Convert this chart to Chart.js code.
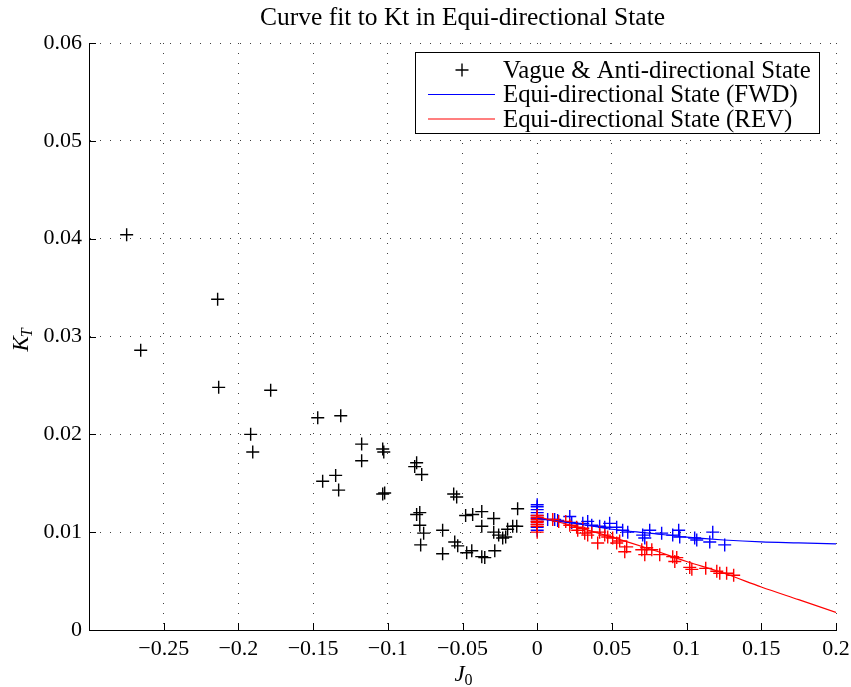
<!DOCTYPE html>
<html>
<head>
<meta charset="utf-8">
<script src="https://cdn.jsdelivr.net/npm/chart.js@4.4.1/dist/chart.umd.min.js"></script>
<style>
html,body{margin:0;padding:0;background:#fff;}
#wrap{width:851px;height:687px;position:relative;}
</style>
</head>
<body>
<div id="wrap"><canvas id="c" width="851" height="687"></canvas></div>
<script>
// ---------- data ----------
const chartTitle = 'Curve fit to Kt in Equi-directional State';
const legendLabels = ['Vague & Anti-directional State', 'Equi-directional State (FWD)', 'Equi-directional State (REV)'];

const xTickValues = [-0.3, -0.25, -0.2, -0.15, -0.1, -0.05, 0, 0.05, 0.1, 0.15, 0.2];
const xTickLabels = ['', '\u22120.25', '\u22120.2', '\u22120.15', '\u22120.1', '\u22120.05', '0', '0.05', '0.1', '0.15', '0.2'];
const yTickValues = [0, 0.01, 0.02, 0.03, 0.04, 0.05, 0.06];
const yTickLabels = ['0', '0.01', '0.02', '0.03', '0.04', '0.05', '0.06'];

// Vague & anti-directional state (black +)
const vagueJ = [-0.2748, -0.2654, -0.2139, -0.2132, -0.1918, -0.1904, -0.1784, -0.1469, -0.1315, -0.1436,
  -0.1349, -0.1329, -0.1175, -0.1175, -0.1034, -0.1027, -0.1034, -0.1021, -0.0807, -0.0820,
  -0.0773, -0.0807, -0.0786, -0.0786, -0.0760, -0.0780, -0.0633, -0.0633, -0.0559, -0.0539,
  -0.0552, -0.0532, -0.0479, -0.0432, -0.0371, -0.0371, -0.0291, -0.0472, -0.0438, -0.0371,
  -0.0351, -0.0284, -0.0291, -0.0258, -0.0231, -0.0211, -0.0198, -0.0164, -0.0137, -0.0131];
const vagueK = [0.0404, 0.0286, 0.0338, 0.0248, 0.0200, 0.0182, 0.0245, 0.0217, 0.0219, 0.0152,
  0.0158, 0.0143, 0.0190, 0.0173, 0.0185, 0.0182, 0.0139, 0.0140, 0.0171, 0.0167,
  0.0159, 0.0118, 0.0120, 0.0107, 0.0099, 0.0087, 0.0102, 0.0078, 0.0139, 0.0136,
  0.0090, 0.0086, 0.0117, 0.0118, 0.0121, 0.0106, 0.0114, 0.0079, 0.0081, 0.0075,
  0.0074, 0.0081, 0.0100, 0.0097, 0.0094, 0.0095, 0.0103, 0.0106, 0.0106, 0.0124];

// Equi-directional FWD measurements (blue +)
const fwdJ = [0, 0, 0, 0, 0, 0, 0, 0, 0, 0,
  0.0070, 0.0117, 0.0137, 0.0218, 0.0231, 0.0305, 0.0338, 0.0365, 0.0418, 0.0452,
  0.0485, 0.0532, 0.0572, 0.0606, 0.0706, 0.0720, 0.0753, 0.0833, 0.0907, 0.0947,
  0.0954, 0.1054, 0.1068, 0.1155, 0.1175, 0.1255];
const fwdK = [0.0128, 0.0126, 0.0123, 0.0120, 0.0117, 0.0114, 0.0111, 0.0108, 0.0105, 0.0102,
  0.0113, 0.0113, 0.0112, 0.0116, 0.0110, 0.0109, 0.0111, 0.0107, 0.0106, 0.0105,
  0.0109, 0.0105, 0.0102, 0.0100, 0.0097, 0.0094, 0.0102, 0.0099, 0.0097, 0.0102,
  0.0095, 0.0094, 0.0092, 0.0090, 0.0100, 0.0087];

// Equi-directional REV measurements (red +)
const revJ = [0, 0, 0, 0, 0, 0, 0, 0,
  0.0104, 0.0144, 0.0191, 0.0218, 0.0264, 0.0271, 0.0305, 0.0318, 0.0338, 0.0365,
  0.0405, 0.0418, 0.0452, 0.0472, 0.0505, 0.0532, 0.0552, 0.0586, 0.0599, 0.0700,
  0.0733, 0.0720, 0.0767, 0.0820, 0.0907, 0.0934, 0.0921, 0.1021, 0.1035, 0.1128,
  0.1202, 0.1222, 0.1268, 0.1315];
const revK = [0.0117, 0.0115, 0.0113, 0.0111, 0.0110, 0.0108, 0.0106, 0.0100,
  0.0113, 0.0111, 0.0111, 0.0107, 0.0105, 0.0102, 0.0104, 0.0099, 0.0097, 0.0100,
  0.0089, 0.0100, 0.0097, 0.0095, 0.0094, 0.0089, 0.0091, 0.0080, 0.0085, 0.0082,
  0.0084, 0.0077, 0.0082, 0.0077, 0.0075, 0.0074, 0.0070, 0.0064, 0.0062, 0.0063,
  0.0060, 0.0058, 0.0058, 0.0056];

// Fitted curves
const fitJ = [0, 0.025, 0.05, 0.075, 0.1, 0.125, 0.15, 0.175, 0.2];
const fwdFitK = [0.0114, 0.0109, 0.0103, 0.0099, 0.0095, 0.0092, 0.0090, 0.0089, 0.0088];
const revFitK = [0.0116, 0.0106, 0.0095, 0.0083, 0.0070, 0.0058, 0.0044, 0.0031, 0.0018];

// ---------- build ----------
const pts = (xs, ys) => xs.map((v, i) => ({x: v, y: ys[i]}));
const SERIF = '"Liberation Serif", "Times New Roman", serif';

const labelFor = (vals, labels) => (v) => {
  for (let i = 0; i < vals.length; i++) if (Math.abs(vals[i] - v) < 1e-7) return labels[i];
  return '';
};

const matlabPlugin = {
  id: 'matlabDeco',
  afterDraw(chart) {
    const {ctx, chartArea: a, scales: {x, y}} = chart;
    ctx.save();
    // inward ticks
    ctx.strokeStyle = '#000';
    ctx.lineWidth = 1;
    ctx.beginPath();
    x.ticks.forEach(t => {
      const px = Math.round(x.getPixelForValue(t.value)) + 0.5;
      ctx.moveTo(px, a.bottom); ctx.lineTo(px, a.bottom - 7);
    });
    y.ticks.forEach(t => {
      const py = Math.round(y.getPixelForValue(t.value)) + 0.5;
      ctx.moveTo(a.left, py); ctx.lineTo(a.left + 7, py);
    });
    ctx.stroke();

    // axis titles with subscripts
    ctx.fillStyle = '#000';
    ctx.textBaseline = 'alphabetic';
    ctx.textAlign = 'left';
    // x: J_0
    const xc = (a.left + a.right) / 2;
    ctx.font = 'italic 23px ' + SERIF;
    ctx.fillText('J', xc - 8, 681);
    ctx.font = '16px ' + SERIF;
    ctx.fillText('0', xc + 2, 685);
    // y: K_T (rotated)
    ctx.save();
    ctx.translate(28, (a.top + a.bottom) / 2 + 15);
    ctx.rotate(-Math.PI / 2);
    ctx.font = 'italic 23px ' + SERIF;
    ctx.fillText('K', 0, 0);
    const kw = ctx.measureText('K').width;
    ctx.font = 'italic 16px ' + SERIF;
    ctx.fillText('T', kw - 1, 4);
    ctx.restore();

    // legend box
    const bx = 415.5, by = 52.5, bw = 404, bh = 81;
    ctx.fillStyle = '#fff';
    ctx.fillRect(bx, by, bw, bh);
    ctx.strokeStyle = '#000';
    ctx.lineWidth = 1;
    ctx.strokeRect(bx, by, bw, bh);
    const rows = [70, 94.5, 119];
    const ds = chart.data.datasets;
    // row 1: + marker
    ctx.beginPath();
    ctx.lineWidth = 1.4;
    ctx.strokeStyle = ds[0].borderColor;
    ctx.moveTo(455.5, rows[0]); ctx.lineTo(468.5, rows[0]);
    ctx.moveTo(462, rows[0] - 6.5); ctx.lineTo(462, rows[0] + 6.5);
    ctx.stroke();
    // rows 2,3: line samples
    [[ds[1].borderColor, rows[1]], [ds[2].borderColor, rows[2]]].forEach(([c, ry]) => {
      ctx.beginPath();
      ctx.lineWidth = 1.2;
      ctx.strokeStyle = c;
      ctx.moveTo(428, ry); ctx.lineTo(495, ry);
      ctx.stroke();
    });
    ctx.fillStyle = '#000';
    ctx.font = '24.8px ' + SERIF;
    ctx.textBaseline = 'middle';
    legendLabels.forEach((t, i) => ctx.fillText(t, 503, rows[i] + 1));
    ctx.restore();
  }
};

const crossStyle = (color) => ({
  pointStyle: 'cross', pointRadius: 6.5, pointHoverRadius: 6.5,
  borderColor: color, backgroundColor: color, pointBorderWidth: 1.4, borderWidth: 1.4, showLine: false
});

new Chart(document.getElementById('c'), {
  type: 'scatter',
  data: {
    datasets: [
      Object.assign({label: legendLabels[0], data: pts(vagueJ, vagueK), order: 5}, crossStyle('#000000')),
      {label: legendLabels[1], data: pts(fitJ, fwdFitK), showLine: true, pointRadius: 0, borderColor: '#0000ff',
        backgroundColor: '#0000ff', borderWidth: 1.2, cubicInterpolationMode: 'monotone', order: 1},
      {label: legendLabels[2], data: pts(fitJ, revFitK), showLine: true, pointRadius: 0, borderColor: '#ff0000',
        backgroundColor: '#ff0000', borderWidth: 1.2, cubicInterpolationMode: 'monotone', order: 0},
      Object.assign({label: 'FWD data', data: pts(fwdJ, fwdK), order: 3}, crossStyle('#0000ff')),
      Object.assign({label: 'REV data', data: pts(revJ, revK), order: 2}, crossStyle('#ff0000'))
    ]
  },
  options: {
    responsive: false,
    animation: false,
    events: [],
    layout: {padding: {left: 0, right: 15, top: 0, bottom: 0}},
    plugins: {
      legend: {display: false},
      tooltip: {enabled: false},
      title: {
        display: true, text: chartTitle, color: '#000', fullSize: false,
        font: {family: SERIF, size: 25.5, weight: 'normal'},
        padding: {top: 3, bottom: 9.4}
      }
    },
    scales: {
      x: {
        type: 'linear', min: -0.3, max: 0.2,
        afterFit(s) { s.height = 57; s.paddingLeft = 0; s.paddingRight = 0; },
        afterBuildTicks(s) { s.ticks = xTickValues.map(v => ({value: v})); },
        ticks: {
          stepSize: 0.05, autoSkip: false, maxRotation: 0, minRotation: 0, padding: 6,
          color: '#000', font: {family: SERIF, size: 22},
          callback: labelFor(xTickValues, xTickLabels)
        },
        grid: {color: 'rgba(0,0,0,0.75)', lineWidth: 1, drawTicks: false},
        border: {display: true, color: '#000', width: 1, dash: [1, 9]}
      },
      y: {
        type: 'linear', min: 0, max: 0.06,
        afterFit(s) { s.width = 89; s.paddingTop = 0; s.paddingBottom = 0; },
        afterBuildTicks(s) { s.ticks = yTickValues.map(v => ({value: v})); },
        ticks: {
          stepSize: 0.01, autoSkip: false, padding: 7,
          color: '#000', font: {family: SERIF, size: 22},
          callback: labelFor(yTickValues, yTickLabels)
        },
        grid: {color: 'rgba(0,0,0,0.75)', lineWidth: 1, drawTicks: false},
        border: {display: true, color: '#000', width: 1, dash: [1, 9]}
      }
    }
  },
  plugins: [matlabPlugin]
});
</script>
</body>
</html>
